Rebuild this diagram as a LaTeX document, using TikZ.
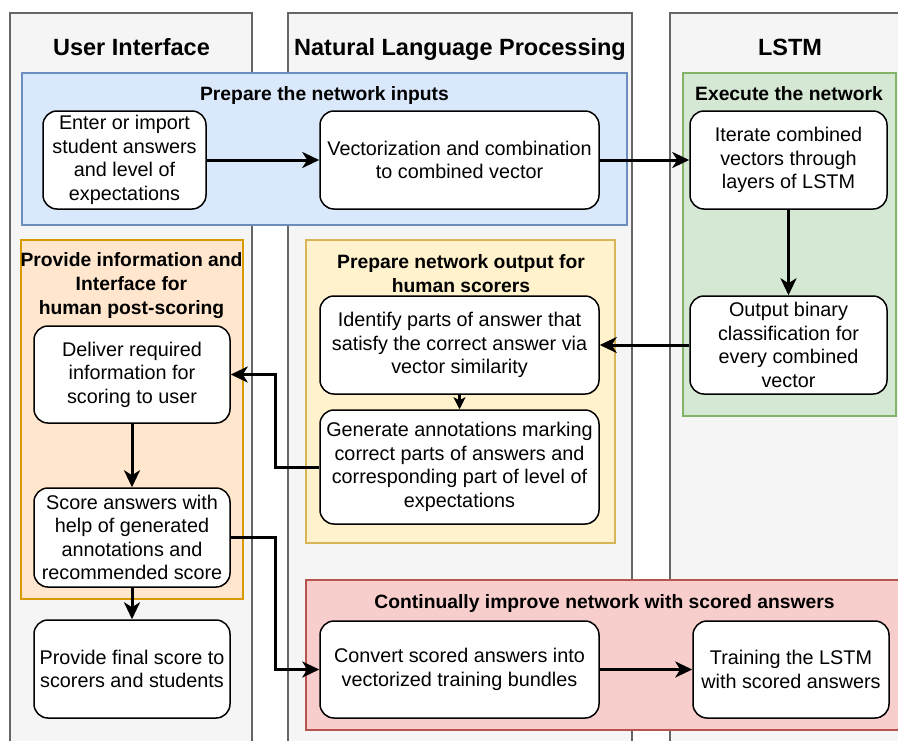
\documentclass[tikz,border=0pt]{standalone}
\usepackage{fontspec}
\setmainfont{Liberation Sans}
\usetikzlibrary{arrows.meta}
\definecolor{laneF}{HTML}{F5F5F5}
\definecolor{laneS}{HTML}{666666}
\definecolor{blueF}{HTML}{DAE8FC}
\definecolor{blueS}{HTML}{6C8EBF}
\definecolor{greenF}{HTML}{D5E8D4}
\definecolor{greenS}{HTML}{82B366}
\definecolor{orangeF}{HTML}{FFE6CC}
\definecolor{orangeS}{HTML}{D79B00}
\definecolor{yellowF}{HTML}{FFF2CC}
\definecolor{yellowS}{HTML}{D6B656}
\definecolor{redF}{HTML}{F8CECC}
\definecolor{redS}{HTML}{B85450}
\newcommand\ndfont{\fontsize{19.8}{23.5}\selectfont}
\newcommand\lnfont{\fontsize{23.5}{27}\selectfont\bfseries}
\newcommand\gpfont{\fontsize{19.3}{24}\selectfont\bfseries}
\begin{document}
\begin{tikzpicture}[x=1pt,y=-1pt,
 lane/.style={draw=laneS, fill=laneF, line width=1.5pt},
 grp/.style={line width=1.5pt},
 box/.style={draw=black, fill=white, rounded corners=14pt, line width=1.5pt, align=center, font=\ndfont, inner sep=0pt, text=black},
 lanetitle/.style={font=\lnfont, anchor=base, inner sep=0pt},
 grptitle/.style={font=\gpfont, align=center, inner sep=0pt},
 arr/.style={line width=3pt, -{Stealth[length=17pt,width=16pt,inset=5pt]}},
 arrsmall/.style={line width=3pt, -{Stealth[length=12pt,width=12pt,inset=3pt]}},
]
\fill[white] (0,0) rectangle (898,740);
\clip (0,0) rectangle (898,740);
\useasboundingbox (0,0) rectangle (898,740);

% lanes
\draw[lane] (10,13) rectangle (252,770);
\draw[lane] (288,13) rectangle (632,770);
\draw[lane] (670,13) rectangle (910,770);
\node[lanetitle] (t1) at (131.5,55.5) {User Interface};
\node[lanetitle] (t2) at (460,55.5) {Natural Language Processing};
\node[lanetitle] (t3) at (790,55.5) {LSTM};

% groups
\draw[grp, draw=blueS, fill=blueF] (22,73) rectangle (627,225);
\draw[grp, draw=greenS, fill=greenF] (683,73) rectangle (896,416);
\draw[grp, draw=orangeS, fill=orangeF] (21,240) rectangle (243,599);
\draw[grp, draw=yellowS, fill=yellowF] (306,240) rectangle (615,543);
\draw[grp, draw=redS, fill=redF] (306,580) rectangle (903,730);

\node[grptitle, anchor=base] (g1) at (324.5,100.5) {Prepare the network inputs};
\node[grptitle, anchor=base] (g2) at (789,100.5) {Execute the network};
\node[grptitle] (g3) at (131.5,286) {Provide information and\\Interface for\\human post-scoring};
\node[grptitle] (g4) at (461,274) {Prepare network output for\\human scorers};
\node[grptitle, anchor=base] (g5) at (604.5,608) {Continually improve network with scored answers};

% nodes
\node[box, minimum width=163pt, minimum height=98pt] (enter) at (124.5,160) {Enter or import\\student answers\\and level of\\expectations};
\node[box, minimum width=279pt, minimum height=98pt] (vect) at (459.5,160) {Vectorization and combination\\to combined vector};
\node[box, minimum width=197pt, minimum height=98pt] (iter) at (788.5,160) {Iterate combined\\vectors through\\layers of LSTM};
\node[box, minimum width=197pt, minimum height=98pt] (outb) at (788.5,345) {Output binary\\classification for\\every combined\\vector};
\node[box, minimum width=279pt, minimum height=98pt] (ident) at (459.5,345) {Identify parts of answer that\\satisfy the correct answer via\\vector similarity};
\node[box, minimum width=279pt, minimum height=114pt] (gen) at (459.5,467) {Generate annotations marking\\correct parts of answers and\\corresponding part of level of\\expectations};
\node[box, minimum width=196pt, minimum height=97pt] (deliver) at (132,374.5) {Deliver required\\information for\\scoring to user};
\node[box, minimum width=196pt, minimum height=99pt] (score) at (132,537.5) {Score answers with\\help of generated\\annotations and\\recommended score};
\node[box, minimum width=196pt, minimum height=98pt] (final) at (132,669) {Provide final score to\\scorers and students};
\node[box, minimum width=279pt, minimum height=97pt] (convert) at (459.5,669.5) {Convert scored answers into\\vectorized training bundles};
\node[box, minimum width=196pt, minimum height=97pt] (train) at (791,669.5) {Training the LSTM\\with scored answers};

\coordinate (j1) at (275,0);

% connectors
\draw[arr] (enter) -- (vect);
\draw[arr] (vect) -- (iter);
\draw[arr] (iter) -- (outb);
\draw[arr] (outb) -- (ident);
\draw[arrsmall] (ident) -- (gen);
\draw[arr] (gen.west) -- (gen.west -| j1) -- (j1 |- deliver.east) -- (deliver.east);
\draw[arr] (deliver) -- (score);
\draw[arr] (score) -- (final);
\draw[arr] (score.east) -- (score.east -| j1) -- (j1 |- convert.west) -- (convert.west);
\draw[arr] (convert) -- (train);
\end{tikzpicture}
\end{document}
